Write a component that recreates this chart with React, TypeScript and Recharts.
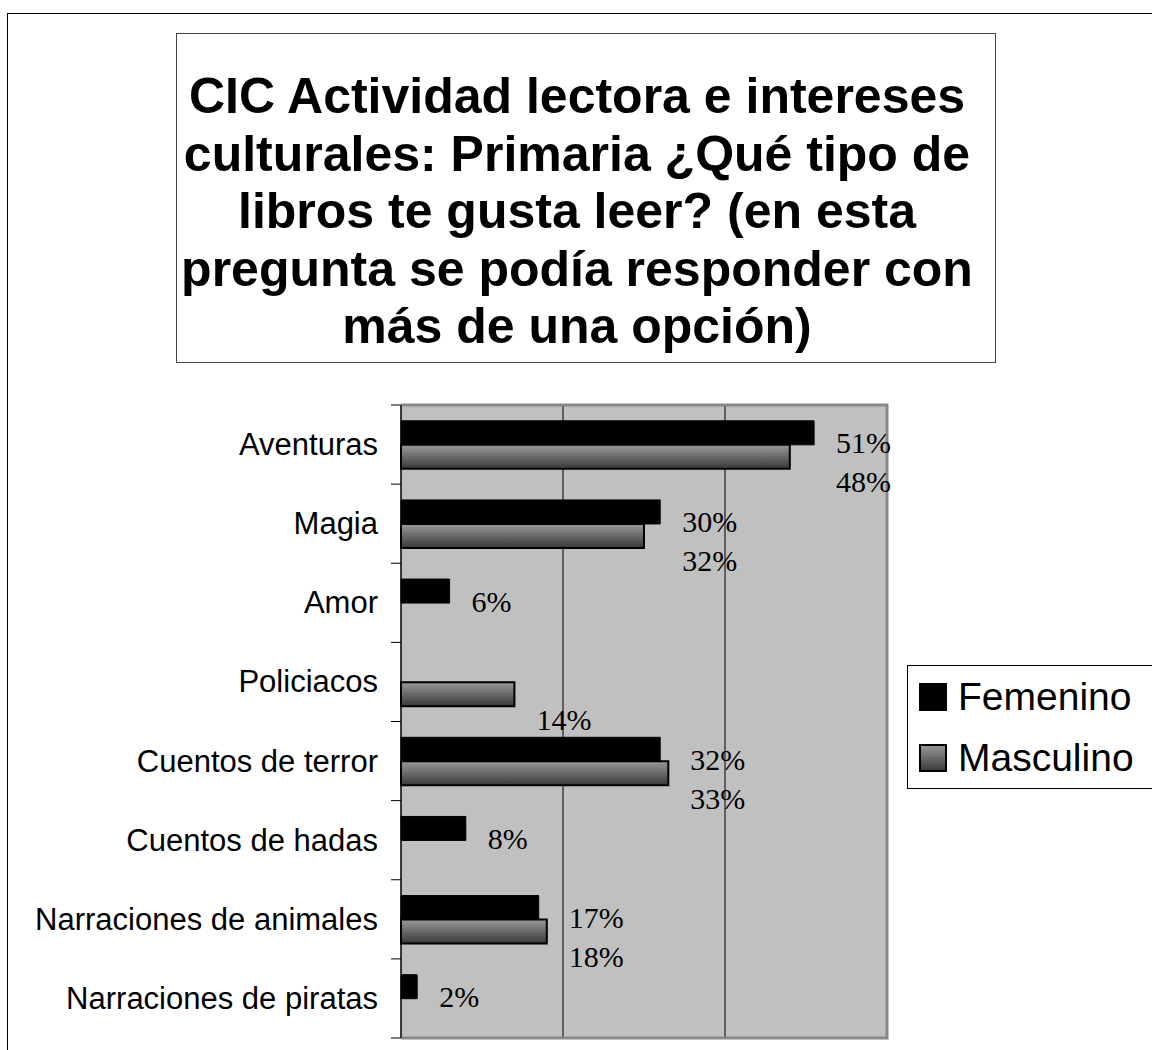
import React from 'react';
import { BarChart, Bar, XAxis, YAxis, CartesianGrid, ReferenceArea, LabelList } from 'recharts';

const categories = [
  'Aventuras',
  'Magia',
  'Amor',
  'Policiacos',
  'Cuentos de terror',
  'Cuentos de hadas',
  'Narraciones de animales',
  'Narraciones de piratas',
];
const femenino = [51, 32, 6, 0, 32, 8, 17, 2];
const masculino = [48, 30, 0, 14, 33, 0, 18, 0];
const femeninoLabels = ['51%', '30%', '6%', '', '32%', '8%', '17%', '2%'];
const masculinoLabels = ['48%', '32%', '', '14%', '33%', '', '18%', ''];
const xTicks = [0, 20, 40, 60];
const seriesNames = ['Femenino', 'Masculino'];
const titleLines = [
  'CIC Actividad lectora e intereses',
  'culturales: Primaria ¿Qué tipo de',
  'libros te gusta leer? (en esta',
  'pregunta se podía responder con',
  'más de una opción)',
];

const data = categories.map((name, i) => ({
  name,
  femenino: femenino[i],
  masculino: masculino[i],
}));

const W = 1152;
const H = 1050;
const MARGIN = { top: 405, right: 265, bottom: 12, left: 0 };
const Y_AXIS_W = 401;
const BAND = (H - MARGIN.top - MARGIN.bottom) / categories.length;
const SANS = '"Liberation Sans", Arial, Helvetica, sans-serif';
const SERIF = '"Liberation Serif", "Times New Roman", Times, serif';

function CategoryTick(props: any) {
  const { x, y, payload, index } = props;
  const lx = x + 13;
  return (
    <g>
      <line x1={lx} x2={lx + 10} y1={y - BAND / 2} y2={y - BAND / 2} stroke="#000" strokeWidth={1} />
      {index === categories.length - 1 && (
        <line x1={lx} x2={lx + 10} y1={y + BAND / 2} y2={y + BAND / 2} stroke="#000" strokeWidth={1} />
      )}
      <text x={x} y={y} textAnchor="end" dominantBaseline="central" fontFamily={SANS} fontSize={31} fill="#000">
        {payload.value}
      </text>
    </g>
  );
}

const makeLabel = (labels: string[], isF: boolean) => (props: any) => {
  const { x, y, width, height, value } = props;
  const index = categories.indexOf(String(value));
  if (index < 0) return null;
  const text = labels[index];
  if (!text) return null;
  const v = isF ? femenino[index] : masculino[index];
  const maxV = Math.max(femenino[index], masculino[index]);
  const endX = Number(x) + (v > 0 ? Number(width) * (maxV / v) : Number(width));
  const cy = Number(y) + Number(height) / 2 + (isF ? 10 : 25);
  return (
    <text x={endX + 22} y={cy} dominantBaseline="central" fontFamily={SERIF} fontSize={30} fill="#000">
      {text}
    </text>
  );
};

function PlotBorder(props: any) {
  const { x, y, width, height } = props;
  return (
    <path
      d={`M${x},${y} L${x + width},${y} L${x + width},${y + height} L${x},${y + height}`}
      fill="none"
      stroke="#888"
      strokeWidth={3}
    />
  );
}

export default function App() {
  return (
    <div
      style={{
        position: 'absolute',
        left: 0,
        top: 0,
        width: W,
        height: H,
        overflow: 'hidden',
        background: '#fff',
      }}
    >
      <div
        style={{
          position: 'absolute',
          left: 7,
          top: 13,
          width: W,
          height: H,
          borderLeft: '1px solid #000',
          borderTop: '1px solid #000',
        }}
      />
      <div style={{ position: 'absolute', left: 0, top: 0 }}>
        <BarChart
          width={W}
          height={H}
          data={data}
          layout="vertical"
          margin={MARGIN}
          barCategoryGap="20%"
          barGap={0}
        >
          <defs>
            <linearGradient id="mascGrad" x1="0" y1="0" x2="0" y2="1">
              <stop offset="0%" stopColor="#9a9a9a" />
              <stop offset="100%" stopColor="#383838" />
            </linearGradient>
          </defs>
          <CartesianGrid horizontal={false} vertical={true} stroke="#000" fill="#C0C0C0" fillOpacity={1} />
          <XAxis type="number" domain={[0, 60]} ticks={xTicks} hide />
          <YAxis
            type="category"
            dataKey="name"
            width={Y_AXIS_W}
            axisLine={{ stroke: '#000', strokeWidth: 1 }}
            tickLine={false}
            tickSize={10}
            tickMargin={13}
            interval={0}
            tick={<CategoryTick />}
          />
          <ReferenceArea x1={0} x2={60} shape={<PlotBorder />} ifOverflow="visible" />
          <Bar dataKey="femenino" name={seriesNames[0]} fill="#000" stroke="#000" strokeWidth={1} isAnimationActive={false}>
            <LabelList dataKey="name" content={makeLabel(femeninoLabels, true)} />
          </Bar>
          <Bar dataKey="masculino" name={seriesNames[1]} fill="url(#mascGrad)" stroke="#000" strokeWidth={2} isAnimationActive={false}>
            <LabelList dataKey="name" content={makeLabel(masculinoLabels, false)} />
          </Bar>
        </BarChart>
      </div>
      <div
        style={{
          position: 'absolute',
          left: 176,
          top: 33,
          width: 820,
          height: 330,
          boxSizing: 'border-box',
          border: '1px solid #444',
          background: '#fff',
          textAlign: 'center',
          fontFamily: SANS,
          fontWeight: 'bold',
          fontSize: 50,
          lineHeight: '57.5px',
          paddingTop: 34,
          paddingRight: 18,
          color: '#000',
        }}
      >
        {titleLines.map((l, i) => (
          <div key={i} style={{ whiteSpace: 'nowrap' }}>{l}</div>
        ))}
      </div>
      <div
        style={{
          position: 'absolute',
          left: 907,
          top: 665,
          width: 300,
          height: 124,
          boxSizing: 'border-box',
          border: '1px solid #000',
          background: '#fff',
          fontFamily: SANS,
          fontSize: 39,
          color: '#000',
        }}
      >
        {seriesNames.map((n, i) => (
          <div
            key={n}
            style={{
              position: 'absolute',
              left: 11,
              top: (i === 0 ? 31 : 92) - 25,
              height: 50,
              display: 'flex',
              alignItems: 'center',
              whiteSpace: 'nowrap',
            }}
          >
            <svg width={28} height={28} style={{ marginRight: 11 }}>
              <defs>
                <linearGradient id={`lg${i}`} x1="0" y1="0" x2="0" y2="1">
                  <stop offset="0%" stopColor="#9a9a9a" />
                  <stop offset="100%" stopColor="#383838" />
                </linearGradient>
              </defs>
              <rect x={1} y={1} width={26} height={26} fill={i === 0 ? '#000' : `url(#lg${i})`} stroke="#000" strokeWidth={2} />
            </svg>
            <span>{n}</span>
          </div>
        ))}
      </div>
    </div>
  );
}
